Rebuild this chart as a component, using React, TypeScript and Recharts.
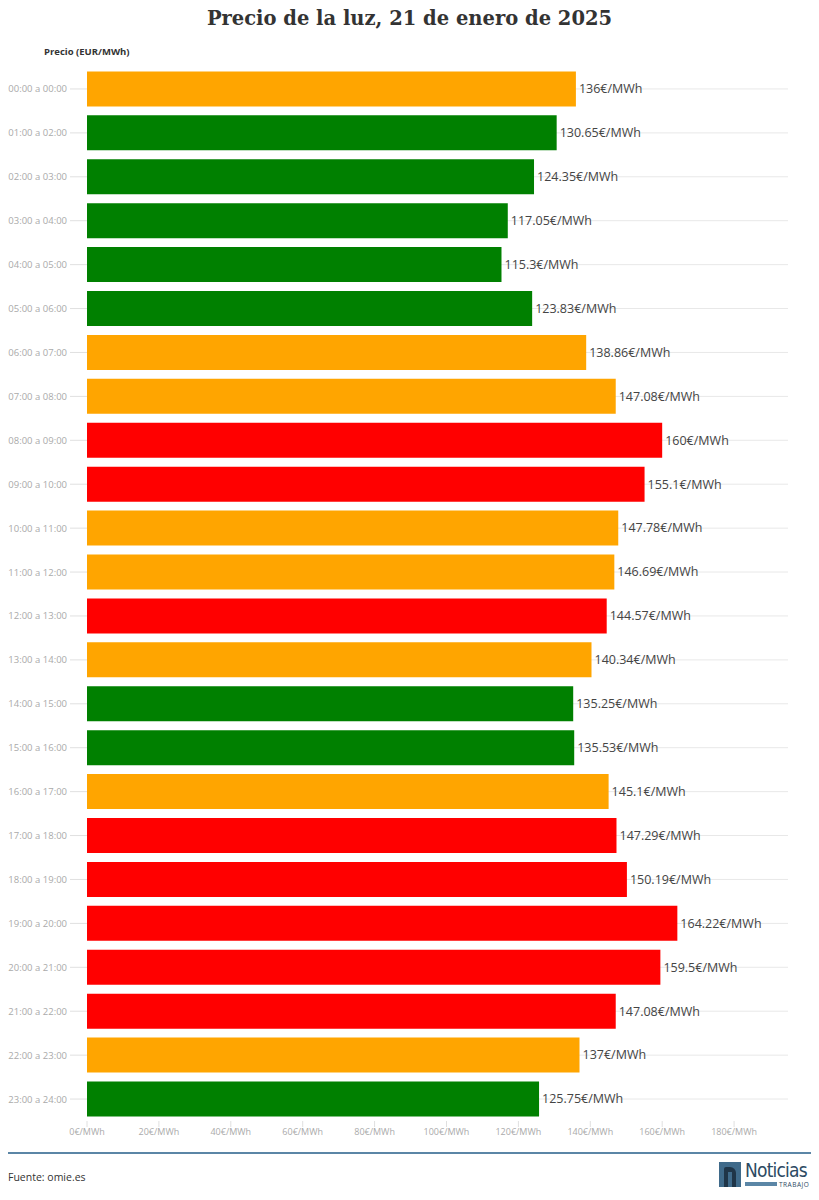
import React from "react"
import { BarChart, Bar, XAxis, YAxis, CartesianGrid, Cell, LabelList } from "recharts"

const hours = [
  "00:00 a 00:00", "01:00 a 02:00", "02:00 a 03:00", "03:00 a 04:00", "04:00 a 05:00", "05:00 a 06:00",
  "06:00 a 07:00", "07:00 a 08:00", "08:00 a 09:00", "09:00 a 10:00", "10:00 a 11:00", "11:00 a 12:00",
  "12:00 a 13:00", "13:00 a 14:00", "14:00 a 15:00", "15:00 a 16:00", "16:00 a 17:00", "17:00 a 18:00",
  "18:00 a 19:00", "19:00 a 20:00", "20:00 a 21:00", "21:00 a 22:00", "22:00 a 23:00", "23:00 a 24:00",
]

const prices = [
  136, 130.65, 124.35, 117.05, 115.3, 123.83, 138.86, 147.08, 160, 155.1, 147.78, 146.69,
  144.57, 140.34, 135.25, 135.53, 145.1, 147.29, 150.19, 164.22, 159.5, 147.08, 137, 125.75,
]

// nivel de precio: b = bajo, m = medio, a = alto
const levels = [
  "m", "b", "b", "b", "b", "b", "m", "m", "a", "a", "m", "m",
  "a", "m", "b", "b", "m", "a", "a", "a", "a", "a", "m", "b",
]

const xTicks = [0, 20, 40, 60, 80, 100, 120, 140, 160, 180]

const levelColor: Record<string, string> = { b: "#008000", m: "#FFA500", a: "#FF0000" }

const data = hours.map((hour, i) => ({ hour, price: prices[i], level: levels[i] }))

const labelFont = "'Open Sans', 'Noto Sans', sans-serif"

const HourTick = (props: any) => {
  const { x, y, payload } = props
  return (
    <text x={x} y={y} dy={3.5} textAnchor="end" fontSize={9.5} fill="#aaa" fontFamily={labelFont}>
      {payload.value}
    </text>
  )
}

export default function App() {
  return (
    <div style={{ position: "absolute", left: 0, top: 0, width: 819, height: 1200, background: "#fff", fontFamily: labelFont }}>
      <div
        style={{
          position: "absolute",
          top: 7,
          left: 0,
          width: 819,
          textAlign: "center",
          fontFamily: "'DejaVu Serif', serif",
          fontWeight: "bold",
          fontSize: 19.5,
          color: "#333",
        }}
      >
        Precio de la luz, 21 de enero de 2025
      </div>
      <div style={{ position: "absolute", top: 45, left: 44, fontSize: 9.5, fontWeight: "bold", color: "#333" }}>
        Precio (EUR/MWh)
      </div>
      <div style={{ position: "absolute", top: 0, left: 0 }}>
        <BarChart
          width={819}
          height={1150}
          data={data}
          layout="vertical"
          margin={{ top: 67, right: 31, bottom: 5, left: 0 }}
          barCategoryGap="10%"
        >
          <CartesianGrid horizontal vertical={false} syncWithTicks stroke="#e8e8e8" />
          <XAxis
            type="number"
            domain={[0, 195]}
            ticks={xTicks}
            tickFormatter={(v: number) => `${v}€/MWh`}
            axisLine={false}
            tickLine={{ stroke: "#e0e0e0" }}
            tickSize={6}
            tickMargin={2}
            height={24}
            tick={{ fontSize: 9, fill: "#aaa", fontFamily: labelFont }}
          />
          <YAxis
            type="category"
            dataKey="hour"
            width={87}
            axisLine={false}
            tickLine={{ stroke: "#e0e0e0" }}
            tickSize={17}
            tickMargin={3}
            interval={0}
            tick={<HourTick />}
          />
          <Bar dataKey="price" isAnimationActive={false}>
            {data.map((d, i) => (
              <Cell key={i} fill={levelColor[d.level]} />
            ))}
            <LabelList
              dataKey="price"
              position="right"
              offset={3}
              formatter={(v: number) => `${v}€/MWh`}
              style={{ fontSize: 12.5, fill: "#444", fontFamily: labelFont }}
            />
          </Bar>
        </BarChart>
      </div>
      <div style={{ position: "absolute", top: 1152, left: 8, width: 803, height: 2, background: "#5b86a6" }} />
      <div style={{ position: "absolute", top: 1170, left: 8, fontSize: 10.5, color: "#333" }}>Fuente: omie.es</div>
      <div style={{ position: "absolute", top: 1162, left: 719, width: 22, height: 25, background: "#3f6a8a" }}>
        <div
          style={{
            position: "absolute",
            left: 5,
            top: 5,
            width: 12,
            height: 20,
            background: "#1f3548",
            borderTopLeftRadius: 2,
            borderTopRightRadius: 6,
          }}
        >
          <div style={{ position: "absolute", left: 4, top: 5, width: 4, height: 15, background: "#3f6a8a" }} />
        </div>
      </div>
      <div
        style={{
          position: "absolute",
          top: 1159,
          left: 745,
          fontSize: 19,
          lineHeight: "22px",
          color: "#2c4a63",
          fontFamily: "'DejaVu Sans Condensed', 'Liberation Sans Narrow', sans-serif",
          letterSpacing: -0.8,
        }}
      >
        Noticias
      </div>
      <div style={{ position: "absolute", top: 1182, left: 745, width: 32, height: 4, background: "#5b86a6" }} />
      <div style={{ position: "absolute", top: 1180, left: 779, fontSize: 6.5, color: "#2c4a63", letterSpacing: 0.5 }}>TRABAJO</div>
    </div>
  )
}
